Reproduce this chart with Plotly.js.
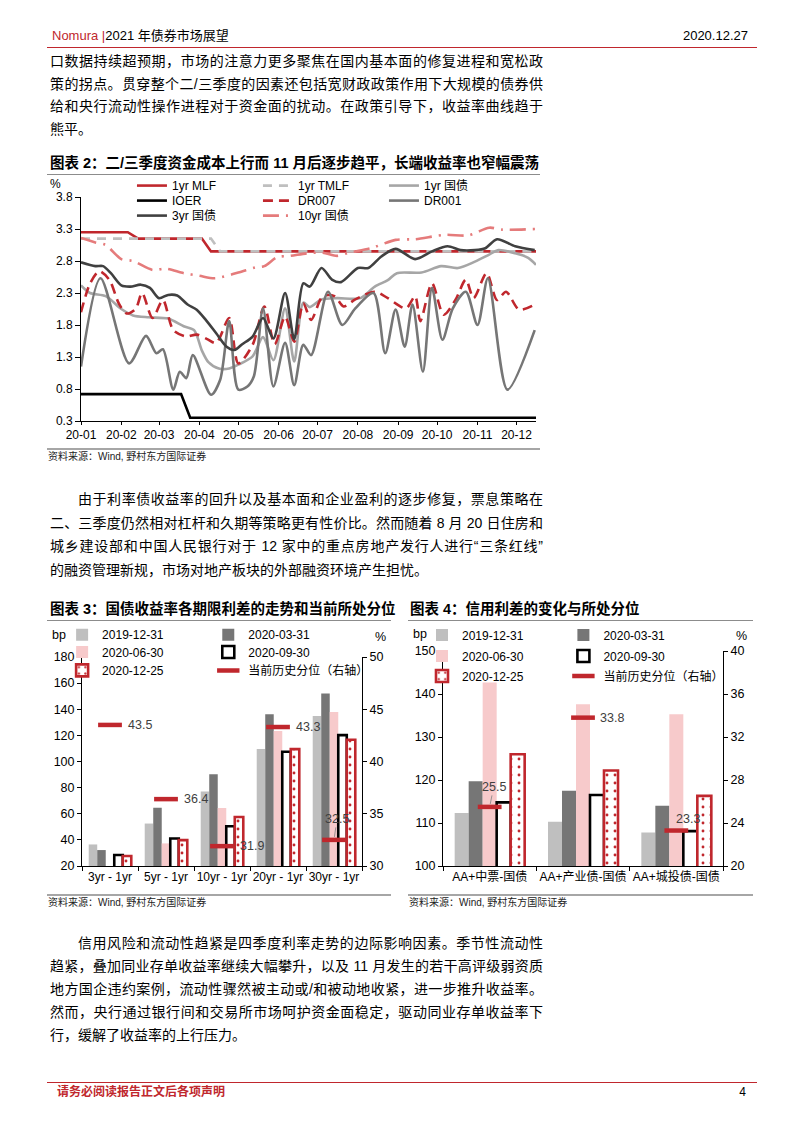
<!DOCTYPE html>
<html><head><meta charset="utf-8">
<script src="https://cdn.plot.ly/plotly-3.0.1.min.js"></script>
<style>
body{margin:0;background:#fff;}
#page{position:relative;width:800px;height:1132px;overflow:hidden;background:#fff;font-family:"Liberation Sans","Noto Sans CJK SC",sans-serif;color:#000;}
.abs{position:absolute;white-space:nowrap;}
.ln{position:absolute;left:50px;width:493px;height:20px;line-height:20px;font-size:14px;white-space:nowrap;text-align:justify;text-align-last:justify;}
.ln.last{text-align-last:left;}
.ln.ind{left:78px;width:465px;}
.rule{position:absolute;height:0;}
.ttl{position:absolute;font-size:14.5px;font-weight:bold;line-height:20px;height:20px;white-space:nowrap;}
.src{position:absolute;font-size:10px;color:#222;line-height:14px;height:14px;white-space:nowrap;}
.chart{position:absolute;}
</style></head>
<body><div id="page">
<div class="abs" style="left:52px;top:27px;font-size:13px;line-height:18px;"><span style="color:#C0272D">Nomura |</span>2021 年债券市场展望</div>
<div class="abs" style="right:52px;top:27px;font-size:13px;line-height:18px;">2020.12.27</div>
<div class="rule" style="left:47px;top:47px;width:710px;border-top:1.5px solid #C0272D;"></div>

<div class="ln" style="top:51px;">口数据持续超预期，市场的注意力更多聚焦在国内基本面的修复进程和宽松政</div>
<div class="ln" style="top:73.5px;">策的拐点。贯穿整个二/三季度的因素还包括宽财政政策作用下大规模的债券供</div>
<div class="ln" style="top:96px;">给和央行流动性操作进程对于资金面的扰动。在政策引导下，收益率曲线趋于</div>
<div class="ln last" style="top:118.5px;">熊平。</div>

<div class="ttl" style="left:50px;top:153px;">图表 2：二/三季度资金成本上行而 11 月后逐步趋平，长端收益率也窄幅震荡</div>
<div class="rule" style="left:47px;top:174px;width:493px;border-top:1.5px solid #8c8c8c;"></div>
<div id="c2" class="chart" style="left:40px;top:176px;width:510px;height:270px;"></div>
<div class="rule" style="left:47px;top:448px;width:493px;border-top:2px solid #a6a6a6;"></div>
<div class="src" style="left:48px;top:450px;">资料来源：Wind, 野村东方国际证券</div>

<div class="ln ind" style="top:489px;">由于利率债收益率的回升以及基本面和企业盈利的逐步修复，票息策略在</div>
<div class="ln" style="top:512.5px;">二、三季度仍然相对杠杆和久期等策略更有性价比。然而随着 8 月 20 日住房和</div>
<div class="ln" style="top:536px;">城乡建设部和中国人民银行对于 12 家中的重点房地产发行人进行“三条红线”</div>
<div class="ln last" style="top:559.5px;">的融资管理新规，市场对地产板块的外部融资环境产生担忧。</div>

<div class="ttl" style="left:50px;top:599px;">图表 3：国债收益率各期限利差的走势和当前所处分位</div>
<div class="rule" style="left:47px;top:620px;width:344px;border-top:1.5px solid #8c8c8c;"></div>
<div class="ttl" style="left:410px;top:599px;">图表 4：信用利差的变化与所处分位</div>
<div class="rule" style="left:408px;top:620px;width:345px;border-top:1.5px solid #8c8c8c;"></div>
<div id="c3" class="chart" style="left:40px;top:620px;width:360px;height:280px;"></div>
<div id="c4" class="chart" style="left:400px;top:620px;width:360px;height:280px;"></div>
<div class="rule" style="left:47px;top:894px;width:344px;border-top:2px solid #a6a6a6;"></div>
<div class="rule" style="left:408px;top:894px;width:345px;border-top:2px solid #a6a6a6;"></div>
<div class="src" style="left:48px;top:896px;">资料来源：Wind, 野村东方国际证券</div>
<div class="src" style="left:409px;top:896px;">资料来源：Wind, 野村东方国际证券</div>

<div class="ln ind" style="top:933px;">信用风险和流动性趋紧是四季度利率走势的边际影响因素。季节性流动性</div>
<div class="ln" style="top:956px;">趋紧，叠加同业存单收益率继续大幅攀升，以及 11 月发生的若干高评级弱资质</div>
<div class="ln" style="top:979px;">地方国企违约案例，流动性骤然被主动或/和被动地收紧，进一步推升收益率。</div>
<div class="ln" style="top:1002px;">然而，央行通过银行间和交易所市场呵护资金面稳定，驱动同业存单收益率下</div>
<div class="ln last" style="top:1025px;">行，缓解了收益率的上行压力。</div>

<div class="rule" style="left:47px;top:1082px;width:710px;border-top:1.5px solid #C0272D;"></div>
<div class="abs" style="left:57px;top:1084px;font-size:12px;line-height:16px;color:#C0272D;font-weight:bold;">请务必阅读报告正文后各项声明</div>
<div class="abs" style="right:54px;top:1084px;font-size:12px;line-height:16px;">4</div>
</div>
<script>
// ---------- Chart 2 data ----------
const mlfDates = ['2020-01-01','2020-02-06','2020-02-14','2020-04-03','2020-04-10','2020-12-16'];
const mlfVals = [3.25,3.25,3.15,3.15,2.95,2.95];
const tmlfDates = ['2020-01-01','2020-04-10','2020-04-17','2020-12-16'];
const tmlfVals = [3.15,3.15,2.95,2.95];
const ioerDates = ['2020-01-01','2020-03-18','2020-03-25','2020-12-16'];
const ioerVals = [0.72,0.72,0.35,0.35];
const cgb1Dates = ['2020-01-01','2020-01-08','2020-01-20','2020-02-01','2020-02-10','2020-02-22','2020-03-08','2020-03-20','2020-03-28','2020-04-03','2020-04-08','2020-04-16','2020-04-24','2020-05-01','2020-05-12','2020-05-20','2020-05-28','2020-06-06','2020-06-13','2020-06-20','2020-06-25','2020-07-04','2020-07-16','2020-08-03','2020-08-14','2020-08-24','2020-08-31','2020-09-19','2020-10-04','2020-10-17','2020-10-30','2020-11-10','2020-11-17','2020-11-30','2020-12-10','2020-12-16'];
const cgb1Vals = [2.42,2.30,2.25,2.05,1.95,1.92,1.90,1.78,1.72,1.40,1.22,1.12,1.12,1.18,1.31,1.61,1.25,2.06,1.23,2.15,2.08,2.20,2.22,2.22,2.40,2.50,2.61,2.62,2.72,2.69,2.79,2.90,2.97,2.92,2.85,2.74];
const dr007Dates = ['2020-01-01','2020-01-08','2020-01-15','2020-01-23','2020-01-30','2020-02-05','2020-02-12','2020-02-17','2020-02-25','2020-03-04','2020-03-12','2020-03-22','2020-03-30','2020-04-07','2020-04-14','2020-04-24','2020-05-01','2020-05-12','2020-05-21','2020-05-29','2020-06-06','2020-06-13','2020-06-20','2020-06-26','2020-07-05','2020-07-14','2020-07-21','2020-07-30','2020-08-14','2020-08-24','2020-09-07','2020-09-14','2020-09-18','2020-09-27','2020-10-06','2020-10-15','2020-10-23','2020-10-29','2020-11-08','2020-11-16','2020-11-23','2020-12-03','2020-12-15'];
const dr007Vals = [2.00,2.45,2.64,2.50,2.14,1.98,2.05,2.30,1.91,2.19,1.72,1.62,1.65,1.58,1.52,1.91,1.20,1.49,2.09,1.50,1.93,1.54,2.14,1.88,2.25,2.25,2.09,2.20,2.32,2.22,2.06,2.25,1.86,2.45,1.96,2.19,2.51,2.22,2.61,2.19,2.32,2.04,2.12];
const dr001Dates = ['2020-01-01','2020-01-16','2020-02-07','2020-02-20','2020-02-28','2020-03-04','2020-03-12','2020-03-17','2020-03-22','2020-03-27','2020-04-10','2020-04-17','2020-04-24','2020-05-01','2020-05-08','2020-05-13','2020-05-20','2020-05-28','2020-06-06','2020-06-13','2020-06-20','2020-06-26','2020-07-09','2020-07-20','2020-07-30','2020-08-13','2020-08-22','2020-08-30','2020-09-06','2020-09-12','2020-09-20','2020-09-27','2020-10-05','2020-10-13','2020-10-23','2020-11-01','2020-11-09','2020-11-24','2020-12-15'];
const dr001Vals = [1.15,2.53,1.20,1.63,1.36,1.42,0.79,1.07,0.97,1.33,0.71,0.94,1.86,0.79,0.84,1.00,2.06,0.84,1.52,0.86,1.49,1.33,2.32,1.80,2.06,2.30,1.36,2.04,1.46,2.12,1.07,2.38,1.57,2.06,2.32,1.80,2.53,0.79,1.72];
const cgb3Dates = ['2020-01-01','2020-01-12','2020-01-18','2020-01-24','2020-02-01','2020-02-08','2020-02-16','2020-02-23','2020-03-01','2020-03-08','2020-03-15','2020-03-23','2020-03-30','2020-04-06','2020-04-14','2020-04-22','2020-04-28','2020-05-04','2020-05-12','2020-05-20','2020-05-28','2020-06-06','2020-06-13','2020-06-20','2020-06-25','2020-07-04','2020-07-12','2020-07-19','2020-08-01','2020-08-09','2020-08-19','2020-08-30','2020-09-14','2020-09-27','2020-10-09','2020-10-19','2020-10-30','2020-11-07','2020-11-16','2020-11-30','2020-12-15'];
const cgb3Vals = [2.78,2.72,2.72,2.61,2.42,2.40,2.43,2.38,2.22,2.27,2.26,2.12,2.04,1.88,1.67,1.46,1.41,1.50,1.62,1.91,1.59,2.30,1.58,2.45,2.40,2.69,2.51,2.47,2.69,2.69,2.87,2.99,2.83,2.95,3.03,2.97,2.97,3.00,3.14,3.03,2.97];
const cgb10Dates = ['2020-01-01','2020-01-12','2020-01-20','2020-02-01','2020-02-10','2020-02-25','2020-03-06','2020-03-20','2020-04-01','2020-04-13','2020-05-01','2020-05-14','2020-05-21','2020-05-31','2020-06-10','2020-06-23','2020-07-05','2020-07-16','2020-07-25','2020-08-11','2020-08-30','2020-09-14','2020-10-07','2020-10-25','2020-11-10','2020-11-20','2020-12-16'];
const cgb10Vals = [3.16,3.09,3.05,2.83,2.80,2.66,2.68,2.61,2.57,2.53,2.62,2.70,2.72,2.86,2.88,2.92,2.93,2.88,2.93,3.00,3.13,3.14,3.21,3.20,3.32,3.29,3.30];
const c2Names = ['1yr MLF','1yr TMLF','1yr 国债','IOER','DR007','DR001','3yr 国债','10yr 国债'];
const c2YTicks = [0.3,0.8,1.3,1.8,2.3,2.8,3.3,3.8];

// ---------- Chart 3 data ----------
const c3Cats = ['3yr - 1yr','5yr - 1yr','10yr - 1yr','20yr - 1yr','30yr - 1yr'];
const c3Dec19 = [36.5,52.5,77,109.5,134.8];
const c3Mar20 = [32.2,64.6,90.2,136.1,152.1];
const c3Jun20 = [19,37.3,64.4,123.4,137.9];
const c3Sep20 = [28.4,41.1,50.4,107.5,120.2];
const c3Dec20 = [27.6,39.8,57.5,109.5,116.6];
const c3Pct = [43.5,36.4,31.9,43.3,32.5];

// ---------- Chart 4 data ----------
const c4Cats = ['AA+中票-国债','AA+产业债-国债','AA+城投债-国债'];
const c4Dec19 = [112.3,110.3,107.8];
const c4Mar20 = [119.7,117.5,114];
const c4Jun20 = [142.7,137.6,135.3];
const c4Sep20 = [114.8,116.5,108.1];
const c4Dec20 = [126,122.2,116.3];
const c4Pct = [25.5,33.8,23.3];

const seriesNames = ['2019-12-31','2020-03-31','2020-06-30','2020-09-30','2020-12-25','当前历史分位（右轴）'];

const FONT = 'Liberation Sans, Noto Sans CJK SC, sans-serif';
const RED = '#C0272D';
const cfg = {staticPlot:true};

// ---------- Chart 2 ----------
function ln(x,y,name,color,dash,legend,shape){
  return {type:'scatter',mode:'lines',x:x,y:y,name:name,legend:legend,
    line:{color:color,width:2.6,dash:dash||'solid',shape:shape||'linear',smoothing:0.8}};
}
const c2Traces = [
  ln(mlfDates,mlfVals,c2Names[0],RED,'solid','legend'),
  ln(tmlfDates,tmlfVals,c2Names[1],'#BFBFBF','9px,7px','legend'),
  ln(cgb1Dates,cgb1Vals,c2Names[2],'#A6A6A6','solid','legend','spline'),
  ln(ioerDates,ioerVals,c2Names[3],'#000000','solid','legend2'),
  ln(dr007Dates,dr007Vals,c2Names[4],RED,'10px,6px','legend2','spline'),
  ln(dr001Dates,dr001Vals,c2Names[5],'#767676','solid','legend2','spline'),
  ln(cgb3Dates,cgb3Vals,c2Names[6],'#404040','solid','legend3','spline'),
  ln(cgb10Dates,cgb10Vals,c2Names[7],'#E57B7B','16px,7px,2px,7px','legend3','spline')
];
function leg(x,y,ew){
  return {orientation:'h',x:x,y:y,xanchor:'left',yanchor:'middle',entrywidth:ew,entrywidthmode:'pixels',
    bgcolor:'rgba(0,0,0,0)',font:{family:FONT,size:12,color:'#000'},itemclick:false};
}
const c2Layout = {
  width:510,height:270,margin:{l:41,r:14,t:21,b:25,autoexpand:false},
  paper_bgcolor:'rgba(0,0,0,0)',plot_bgcolor:'rgba(0,0,0,0)',
  font:{family:FONT,size:12,color:'#000'},
  xaxis:{type:'date',range:['2020-01-01','2020-12-16'],tick0:'2020-01-01',dtick:'M1',tickformat:'%y-%m',
    showline:true,linecolor:'#000',linewidth:1,ticks:'outside',ticklen:3,tickcolor:'#000',showgrid:false,zeroline:false,
    tickfont:{size:12}},
  yaxis:{range:[0.3,3.8],tickvals:c2YTicks,ticktext:c2YTicks.map(v=>v.toFixed(1)),showline:true,linecolor:'#000',linewidth:1,
    ticks:'outside',ticklen:5,tickcolor:'#000',showgrid:false,zeroline:false,tickfont:{size:12}},
  showlegend:true,
  legend:leg(0.112,1.051,81),legend2:leg(0.112,0.984,81),legend3:leg(0.112,0.917,81),
  annotations:[{text:'%',xref:'paper',yref:'paper',x:-0.057,y:1.06,xanchor:'center',yanchor:'middle',showarrow:false,font:{size:12}}]
};
Plotly.newPlot('c2',c2Traces,c2Layout,cfg);

// ---------- Bar charts ----------
const legIds = ['legend','legend2','legend3','legend4','legend5','legend6'];
function barTraces(cats,vals,pct){
  const styles = [
    {color:'#BFBFBF'},
    {color:'#767676'},
    {color:'#F7CACB'},
    {color:'#FFFFFF',line:{color:'#000',width:2.6}},
    {color:'#FFFFFF',line:{color:RED,width:2.6},pattern:{shape:'.',fgcolor:RED,bgcolor:'#FFFFFF',size:8,solidity:0.1}}
  ];
  const tr = vals.map((v,i)=>({type:'bar',x:cats,y:v,name:seriesNames[i],marker:styles[i],yaxis:'y',legend:legIds[i]}));
  tr.push({type:'scatter',mode:'markers',x:cats,y:pct,yaxis:'y2',name:seriesNames[5],legend:legIds[5],
    marker:{symbol:'line-ew',size:17,color:RED,line:{color:RED,width:4.5}}});
  return tr;
}
function barLayout(o){
  const L = {
    width:360,height:280,margin:{l:o.l,r:o.r,t:o.t,b:34,autoexpand:false},
    paper_bgcolor:'rgba(0,0,0,0)',plot_bgcolor:'rgba(0,0,0,0)',
    font:{family:FONT,size:12,color:'#000'},
    barmode:'group',bargap:o.gap,bargroupgap:0,
    xaxis:{type:'category',showline:true,linecolor:'#000',linewidth:1,ticks:'outside',tickson:'boundaries',ticklen:4,
      tickcolor:'#000',showgrid:false,zeroline:false,tickangle:0,tickfont:{size:o.xfs}},
    yaxis:{range:o.yr,dtick:o.yd,tick0:o.yr[0],showline:true,linecolor:'#000',linewidth:1,ticks:'outside',ticklen:4,
      tickcolor:'#000',showgrid:false,zeroline:false,tickfont:{size:12.5}},
    yaxis2:{overlaying:'y',side:'right',range:o.y2r,dtick:o.y2d,tick0:o.y2r[0],showline:true,linecolor:'#000',linewidth:1,
      ticks:'outside',ticklen:4,tickcolor:'#000',showgrid:false,zeroline:false,tickfont:{size:12.5}},
    showlegend:true,
    annotations:o.ann
  };
  legIds.forEach((id,i)=>{
    L[id] = {orientation:'v',x:o.lx[i%2],y:o.ly[Math.floor(i/2)],xanchor:'left',yanchor:'middle',
      bgcolor:'rgba(0,0,0,0)',font:{family:FONT,size:12,color:'#000'}};
  });
  return L;
}
const labFont = {size:12.5,color:'#404040'};
function lab(cat,v,opt){
  return Object.assign({x:cat,y:v,xref:'x',yref:'y2',text:v.toFixed(1),showarrow:false,font:labFont,xanchor:'left',yanchor:'middle',xshift:16},opt||{});
}
function unit(t,x,y){ return {text:t,xref:'paper',yref:'paper',x:x,y:y,xanchor:'center',yanchor:'middle',showarrow:false,font:{size:12.5}}; }
const c3Ann = [
  lab(c3Cats[0],c3Pct[0]),lab(c3Cats[1],c3Pct[1]),lab(c3Cats[2],c3Pct[2]),lab(c3Cats[3],c3Pct[3]),
  lab(c3Cats[4],c3Pct[4],{showarrow:true,arrowhead:0,arrowwidth:0.8,arrowcolor:'#808080',ax:3,ay:-21,xanchor:'center',xshift:0,standoff:3}),
  unit('bp',-0.083,1.107),unit('%',1.065,1.096)
];
Plotly.newPlot('c3',barTraces(c3Cats,[c3Dec19,c3Mar20,c3Jun20,c3Sep20,c3Dec20],c3Pct),
  barLayout({l:41.7,r:38.3,t:36.7,gap:0.24,xfs:12,yr:[20,180],yd:20,y2r:[30,50],y2d:5,
    lx:[-0.071,0.451],ly:[1.107,1.024,0.936],ann:c3Ann}),cfg);

const c4Ann = [
  lab(c4Cats[0],c4Pct[0],{showarrow:true,arrowhead:0,arrowwidth:0.8,arrowcolor:'#808080',ax:4,ay:-20,xanchor:'center',xshift:0,standoff:3}),
  lab(c4Cats[1],c4Pct[1],{xshift:15}),
  lab(c4Cats[2],c4Pct[2],{xanchor:'center',xshift:12,yshift:12}),
  unit('bp',-0.081,1.078),unit('%',1.067,1.071)
];
Plotly.newPlot('c4',barTraces(c4Cats,[c4Dec19,c4Mar20,c4Jun20,c4Sep20,c4Dec20],c4Pct),
  barLayout({l:42.7,r:36.7,t:31,gap:0.25,xfs:12,yr:[100,150],yd:10,y2r:[20,40],y2d:4,
    lx:[-0.075,0.430],ly:[1.074,0.977,0.884],ann:c4Ann}),cfg);
</script>
</body></html>
